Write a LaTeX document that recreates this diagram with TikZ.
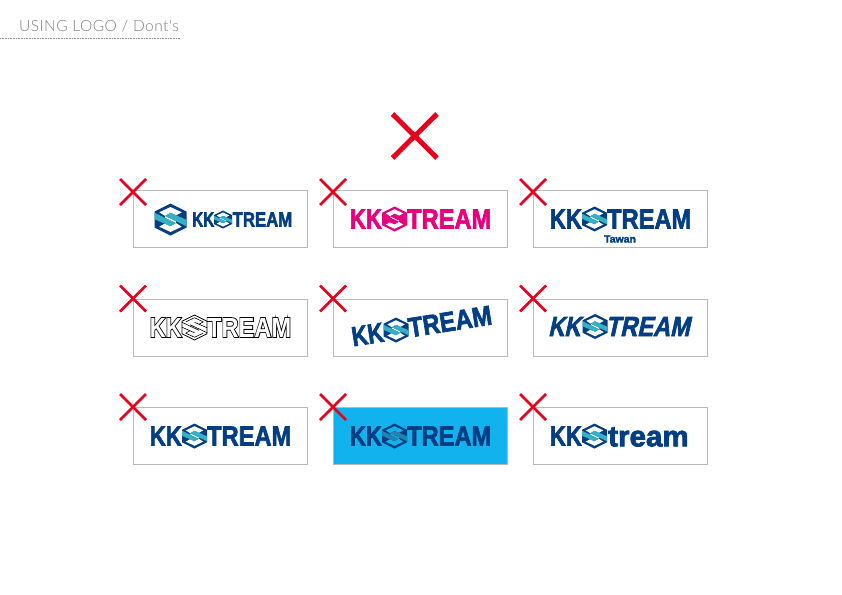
\documentclass[tikz,border=0pt]{standalone}
\usepackage{fontspec}
\usepackage{graphicx}
\setmainfont{Liberation Sans}
\newfontfamily\titlefont[LetterSpace=3]{Lato Light}
\newfontfamily\logofont[UprightFont=* Bold,FakeBold=2.5]{Liberation Sans}
\newfontfamily\logoheavy[UprightFont=* Bold,FakeBold=6]{Liberation Sans}
\definecolor{kkblue}{RGB}{4,62,130}
\definecolor{kkteal}{RGB}{53,176,198}
\definecolor{kkpink}{RGB}{230,0,126}
\definecolor{kkred}{RGB}{230,0,30}
\definecolor{kksky}{RGB}{18,178,238}
\definecolor{kkline}{RGB}{185,185,185}
\colorlet{logomain}{kkblue}
\colorlet{logoaccent}{kkteal}
\colorlet{logogap}{white}
\tikzset{
  crossmark/.style={draw=kkred,line width=2.8pt},
  logobox/.style={draw=kkline,line width=0.8pt,fill=white,minimum width=174pt,minimum height=57pt,inner sep=0pt},
  logotext/.style={inner sep=0pt,text=logomain,font=\logofont,transform shape},
  % the hexagon, radius 1 unit
  hexmark/.pic={
    \fill[logomain] (0,-1) -- (1,-.5) -- (1,.5) -- (0,1) -- (-1,.5) -- (-1,-.5) -- cycle;
    \fill[logogap] (-.7,-.45) -- (0,-.78) -- (.7,-.45) -- (.36,-.26) -- (0,-.42) -- (-.34,-.22) -- cycle;
    \fill[logogap] (.7,.45) -- (0,.78) -- (-.7,.45) -- (-.36,.26) -- (0,.42) -- (.34,.22) -- cycle;
    \fill[logogap] (-.34,-.22) -- (.34,.1) -- (.34,.22) -- (-.34,-.1) -- cycle;
    \fill[logoaccent] (0,-.42) -- (-.34,-.22) -- (1,.42) -- (1,.02) -- cycle;
    \fill[logoaccent] (0,.42) -- (.34,.22) -- (-1,-.42) -- (-1,-.02) -- cycle;
  },
  % line version
  linemark/.pic={
    \draw[line width=0.7pt] (0,-1) -- (1,-.5) -- (1,.5) -- (0,1) -- (-1,.5) -- (-1,-.5) -- cycle;
    \draw[line width=0.6pt] (-.7,-.45) -- (0,-.78) -- (.7,-.45) -- (.36,-.26) -- (0,-.42) -- (1,.02) (-.34,-.22) -- (1,.42) (.7,.45) -- (0,.78) -- (-.7,.45) -- (-.36,.26) -- (0,.42) -- (-1,-.02) (.34,.22) -- (-1,-.42);
  }
}
\newcommand{\crossat}[2]{
  \draw[crossmark] (#1-13,#2-13) -- (#1+13,#2+13) (#1+13,#2-13) -- (#1-13,#2+13);
}
% the wordmark, drawn round (0,0); #1 is the name
\newcommand{\wordmark}[1]{
  \node[logotext,anchor=east] (#1k) at (-12.5,0) {\resizebox{32pt}{19pt}{KK}};
  \node[logotext,anchor=west] (#1t) at (12.5,0) {\resizebox{84pt}{19pt}{TREAM}};
  \pic[scale=12.5] {hexmark};
}
\begin{document}
\begin{tikzpicture}[x=1pt,y=-1pt]
\useasboundingbox (0,0) rectangle (842,594);
\fill[white] (0,0) rectangle (842,594);

% heading
\node[anchor=west,inner sep=0pt,text=black!50,font=\titlefont\fontsize{15.5}{17}\selectfont] (heading) at (19,26.5) {USING LOGO / Dont's};
\coordinate (ruleA) at (0,38.5);
\coordinate (ruleB) at (180,38.5);
\draw[black!45,line width=1pt,dash pattern=on 0.8pt off 0.8pt] (ruleA) -- (ruleB);

% big cross
\draw[kkred,line width=5pt] (392.5,114) -- (437,158) (437,114) -- (392.5,158);

% boxes
\node[logobox] (boxA) at (220.5,219) {};
\node[logobox] (boxB) at (420.5,219) {};
\node[logobox] (boxC) at (620.5,219) {};
\node[logobox] (boxD) at (220.5,327.5) {};
\node[logobox] (boxE) at (420.5,327.5) {};
\node[logobox] (boxF) at (620.5,327.5) {};
\node[logobox] (boxG) at (220.5,436) {};
\node[logobox,fill=kksky] (boxH) at (420.5,436) {};
\node[logobox] (boxI) at (620.5,436) {};

% crosses
\crossat{133}{192}
\crossat{333}{192}
\crossat{533}{192}
\crossat{133}{298.5}
\crossat{333}{298.5}
\crossat{533}{298.5}
\crossat{133}{407}
\crossat{333}{407}
\crossat{533}{407}

% big mark in front of the word
\begin{scope}[shift={(170.5,219.5)}]
  \pic[scale=16] {hexmark};
\end{scope}
\node[logotext,anchor=west] (wAk) at (192,219.5) {\resizebox{22pt}{14pt}{KK}};
\node[logotext,anchor=west] (wAt) at (232.5,219.5) {\resizebox{59.5pt}{14pt}{TREAM}};
\begin{scope}[shift={(223,219.5)}]
  \pic[scale=9] {hexmark};
\end{scope}

% wrong colour
\begin{scope}[shift={(394.5,219)}]
  \colorlet{logomain}{kkpink}\colorlet{logoaccent}{kkpink}
  \wordmark{wB}
\end{scope}

% extra line
\begin{scope}[shift={(594.5,219)}]
  \wordmark{wC}
\end{scope}
\node[logotext,font=\logofont\fontsize{10.5}{11}\selectfont] (wCsub) at (620,239) {Tawan};

% outlined
\begin{scope}[shift={(194.5,327.5)}]
  \node[logotext,anchor=east,text=black,font=\logoheavy] (wDk) at (-12.5,0) {\resizebox{32pt}{19pt}{KK}};
  \node[logotext,anchor=west,text=black,font=\logoheavy] (wDt) at (12.5,0) {\resizebox{84pt}{19pt}{TREAM}};
  \node[logotext,anchor=east,text=white,font=\bfseries] (wDkin) at (-12.5,0) {\resizebox{32pt}{19pt}{KK}};
  \node[logotext,anchor=west,text=white,font=\bfseries] (wDtin) at (12.5,0) {\resizebox{84pt}{19pt}{TREAM}};
  \pic[scale=12.5] {linemark};
\end{scope}

% tilted
\begin{scope}[shift={(396,330)},rotate=9]
  \wordmark{wE}
\end{scope}

% slanted
\begin{scope}[shift={(595,326.5)},xslant=.22]
  \wordmark{wF}
\end{scope}

% plain one
\begin{scope}[shift={(194.5,436)}]
  \wordmark{wG}
\end{scope}

% on a coloured ground
\begin{scope}[shift={(394.5,436)}]
  \colorlet{logoaccent}{kkteal!60!kkblue}\colorlet{logogap}{kksky}
  \wordmark{wH}
\end{scope}

% lower case
\begin{scope}[shift={(594.5,436)}]
  \node[logotext,anchor=east] (wIk) at (-12.5,0) {\resizebox{32pt}{19pt}{KK}};
  \node[logotext,anchor=west] (wIt) at (13.5,1) {\resizebox{80.5pt}{19pt}{tream}};
  \pic[scale=12.5] {hexmark};
\end{scope}
\end{tikzpicture}
\end{document}
